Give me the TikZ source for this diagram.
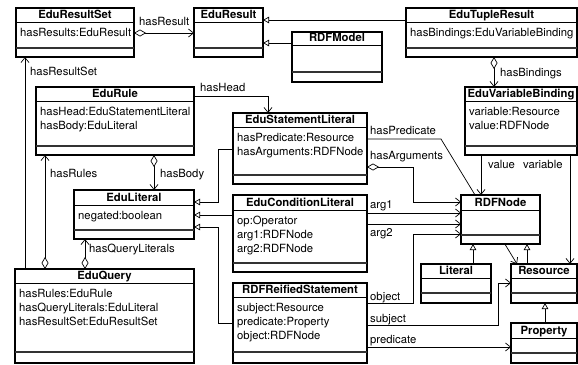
\documentclass[tikz,border=0pt]{standalone}
\usepackage{fontspec}
\setmainfont{TeX Gyre Heros}
\usetikzlibrary{arrows.meta,calc}
\pgfdeclarelayer{bg}
\pgfsetlayers{bg,main}
\tikzset{
  classbox/.style={draw, line width=1.1pt, fill=white, inner sep=0pt, outer sep=0pt, anchor=north west},
  septhin/.style={line width=0.8pt},
  septhick/.style={line width=1.6pt, black!80},
  ttl/.style={font=\fontsize{11.3}{13}\selectfont\bfseries, inner sep=0pt, anchor=base},
  attr/.style={font=\fontsize{11.3}{14}\selectfont, inner sep=0pt, anchor=north west, align=left},
  lbl/.style={font=\fontsize{11.3}{13}\selectfont, inner sep=0pt, anchor=base west},
  conn/.style={line width=0.7pt},
  assoc/.style={conn, -{Straight Barb[length=5pt,width=8pt]}},
  aggr/.style={conn, {Diamond[fill=white,length=12pt,width=7pt]}-{Straight Barb[length=5pt,width=8pt]}},
  gen/.style={conn, -{Triangle[fill=white,length=6pt,width=6.5pt]}},
}
% #1 name, #2 x1, #3 y1, #4 x2, #5 y2, #6 sep1, #7 sep2, #8 title, #9 attributes
\newcommand\umlclass[9]{%
  \node[classbox, minimum width={(#4-#2)*1pt}, minimum height={(#5-#3)*1pt}] (#1) at (#2,#3) {};
  \draw[septhin] (#2,#6) -- (#4,#6);
  \draw[septhick] (#2,#7) -- (#4,#7);
  \node[ttl] (#1-title) at ({(#2+#4)/2},{#6-3.5}) {#8};
  \node[attr] (#1-attrs) at ({#2+4},{#6+6}) {#9};
}
\begin{document}
\begin{tikzpicture}[x=1pt,y=-1pt]
\useasboundingbox (0,0) rectangle (578,364);
\umlclass{ers}{16}{8}{134}{57}{22}{48}{EduResultSet}{hasResults:EduResult}
\umlclass{er}{194}{8}{263}{57}{22}{48}{EduResult}{}
\umlclass{etr}{406}{8}{577}{57}{22}{48}{EduTupleResult}{hasBindings:EduVariableBinding}
\umlclass{rm}{292}{32}{382}{82}{45}{72}{RDFModel}{}
\umlclass{erule}{36}{87}{194}{155}{101}{146}{EduRule}{hasHead:EduStatementLiteral\\hasBody:EduLiteral}
\umlclass{evb}{465}{87}{577}{155}{101}{146}{EduVariableBinding}{variable:Resource\\value:RDFNode}
\umlclass{esl}{233}{113}{367}{184}{127}{175}{EduStatementLiteral}{hasPredicate:Resource\\hasArguments:RDFNode}
\umlclass{el}{74}{190}{194}{239}{205}{230}{EduLiteral}{negated:boolean}
\umlclass{ecl}{233}{195}{367}{272}{210}{263}{EduConditionLiteral}{op:Operator\\arg1:RDFNode\\arg2:RDFNode}
\umlclass{rn}{461}{195}{540}{244}{210}{235}{RDFNode}{}
\umlclass{eq}{15}{269}{194}{363}{283}{352}{EduQuery}{hasRules:EduRule\\hasQueryLiterals:EduLiteral\\hasResultSet:EduResultSet}
\umlclass{rrs}{233}{283}{367}{363}{297}{352}{RDFReifiedStatement}{subject:Resource\\predicate:Property\\object:RDFNode}
\umlclass{lit}{421}{264}{491}{303}{278}{293}{Literal}{}
\umlclass{res}{511}{264}{577}{303}{278}{293}{Resource}{}
\umlclass{prop}{511}{323}{577}{363}{338}{353}{Property}{}

\begin{pgfonlayer}{bg}
\draw[aggr] (ers.east |- 0,33) -- (er.west |- 0,33);
\draw[gen] (etr.west |- 0,20) -- (er.east |- 0,20);
\draw[gen] (rm.west |- 0,43) -- (er.east |- 0,43);
\draw[aggr] (etr.south -| 494,0) -- (evb.north -| 494,0);
\draw[assoc] (eq.north -| 25,0) -- (ers.south -| 25,0);
\draw[assoc] (erule.east |- 0,96) -- (268,96) -- (esl.north -| 268,0);
\draw[aggr] (erule.south -| 154,0) -- (el.north -| 154,0);
\draw[aggr] (eq.north -| 45,0) -- (erule.south -| 45,0);
\draw[aggr] (eq.north -| 85,0) -- (el.south -| 85,0);
\draw[gen] (esl.west |- 0,149) -- (218,149) -- (218,202) -- (el.east |- 0,202);
\draw[gen] (ecl.west |- 0,215) -- (el.east |- 0,215);
\draw[gen] (rrs.west |- 0,323) -- (218,323) -- (218,227) -- (el.east |- 0,227);
\draw[assoc] (esl.east |- 0,139) -- (441,139) -- (res.north -| 517,0);
\draw[aggr] (esl.east |- 0,167) -- (413,167) -- (413,202) -- (rn.west |- 0,202);
\draw[assoc] (ecl.east |- 0,213) -- (rn.west |- 0,213);
\draw[assoc] (ecl.east |- 0,224) -- (rn.west |- 0,224);
\draw[assoc] (rrs.east |- 0,303) -- (413,303) -- (413,234) -- (rn.west |- 0,234);
\draw[assoc] (evb.south -| 481,0) -- (rn.north -| 481,0);
\draw[assoc] (evb.south -| 570,0) -- (res.north -| 570,0);
\draw[assoc] (rrs.east |- 0,325) -- (498,325) -- (498,283) -- (res.west |- 0,283);
\draw[assoc] (rrs.east |- 0,347) -- (prop.west |- 0,347);
\draw[gen] (lit.north -| 473,0) -- (rn.south -| 473,0);
\draw[gen] (res.north -| 527,0) -- (rn.south -| 527,0);
\draw[gen] (prop.north -| 545,0) -- (res.south -| 545,0);
\end{pgfonlayer}

\node[lbl] (lhasResult) at (139,25) {hasResult};
\node[lbl] (lhasBindings) at (500,76) {hasBindings};
\node[lbl] (lhasResultSet) at (30,75) {hasResultSet};
\node[lbl] (lhasHead) at (200,91) {hasHead};
\node[lbl] (lhasBody) at (160,177) {hasBody};
\node[lbl] (lhasRules) at (50,177) {hasRules};
\node[lbl] (lhasQL) at (89,252) {hasQueryLiterals};
\node[lbl] (lhasPred) at (370,134) {hasPredicate};
\node[lbl] (lhasArgs) at (370,159) {hasArguments};
\node[lbl] (larg1) at (370,208) {arg1};
\node[lbl] (larg2) at (370,236) {arg2};
\node[lbl] (lobject) at (370,300) {object};
\node[lbl] (lsubject) at (370,322) {subject};
\node[lbl] (lpredicate) at (370,343) {predicate};
\node[lbl] (lvalue) at (488,168) {value};
\node[lbl] (lvariable) at (523,168) {variable};
\end{tikzpicture}
\end{document}
